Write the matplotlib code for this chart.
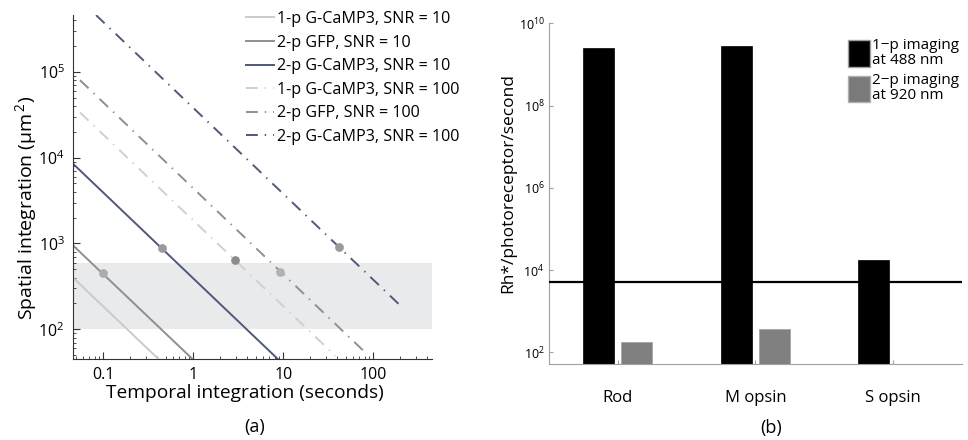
import numpy as np
import matplotlib
matplotlib.use("Agg")
import matplotlib.pyplot as plt
from matplotlib.ticker import FixedLocator, LogLocator, FuncFormatter, NullFormatter
from matplotlib.patches import Patch

plt.rcParams['font.family'] = ['Open Sans', 'DejaVu Sans']
plt.rcParams['mathtext.fontset'] = 'custom'
plt.rcParams['mathtext.rm'] = 'Open Sans'
plt.rcParams['mathtext.it'] = 'Open Sans:italic'
plt.rcParams['lines.scale_dashes'] = False

# ---- panel (a): spatial vs temporal integration ----
labels_a = ["1-p G-CaMP3, SNR = 10", "2-p GFP, SNR = 10", "2-p G-CaMP3, SNR = 10",
            "1-p G-CaMP3, SNR = 100", "2-p GFP, SNR = 100", "2-p G-CaMP3, SNR = 100"]
t_ends = [[0.046, 0.41], [0.046, 0.98], [0.046, 8.7],
          [0.055, 38], [0.055, 81], [0.083, 210]]
area_ends = [[400, 45], [950, 45], [8500, 45],
             [33600, 49], [80000, 54], [458000, 180]]
colors_a = ['#cacaca', '#8f8f8f', '#4f5978', '#d0d0d0', '#8f8f8f', '#4f5978']
dot_t = [0.1, 0.45, 2.9, 9.3, 42]
dot_area = [450, 880, 650, 470, 900]
dot_colors = ['#acacac', '#9a9a9a', '#8c8c8c', '#b2b2b2', '#999999']
band_low, band_high = 100, 600

# ---- panel (b): photoreceptor activation ----
cats = ["Rod", "M opsin", "S opsin"]
one_p = [2.45e9, 2.75e9, 1.75e4]
two_p = [182, 370, np.nan]
threshold = 5200

fig = plt.figure(figsize=(9.68, 4.4), dpi=100)

ax = fig.add_axes([0.0754, 0.184, 0.3709, 0.782])
ax.set_xscale('log')
ax.set_yscale('log')
ax.axhspan(band_low, band_high, color='#e9eaec', zorder=0, lw=0)
for i in range(6):
    if i < 3:
        ax.plot(t_ends[i], area_ends[i], color=colors_a[i], lw=1.4,
                label=labels_a[i], zorder=2)
    else:
        ax.plot(t_ends[i], area_ends[i], color=colors_a[i], lw=1.4,
                dashes=(8.5, 5, 1, 5), label=labels_a[i], zorder=2)
for t, a, c in zip(dot_t, dot_area, dot_colors):
    ax.plot(t, a, 'o', color=c, ms=6.3, mec='none', zorder=3)
ax.set_xlim(0.046, 450)
ax.set_ylim(45, 4.6e5)
for s in ['top', 'right']:
    ax.spines[s].set_visible(False)
ax.spines['left'].set_color('#333333')
ax.spines['bottom'].set_color('#333333')
ax.xaxis.set_major_locator(FixedLocator([0.1, 1, 10, 100]))
ax.xaxis.set_major_formatter(FuncFormatter(lambda v, p: '%g' % v))
ax.xaxis.set_minor_locator(LogLocator(base=10, subs=np.arange(2, 10)))
ax.xaxis.set_minor_formatter(NullFormatter())
ax.yaxis.set_major_locator(FixedLocator([1e2, 1e3, 1e4, 1e5]))
ax.yaxis.set_major_formatter(FuncFormatter(
    lambda v, p: r'$\mathregular{10^{%d}}$' % round(np.log10(v))))
ax.yaxis.set_minor_locator(LogLocator(base=10, subs=np.arange(2, 10)))
ax.yaxis.set_minor_formatter(NullFormatter())
ax.tick_params(which='both', direction='in', color='#333333', labelsize=11.5)
ax.tick_params(which='major', length=5, pad=6)
ax.tick_params(which='minor', length=2.5)
ax.set_xlabel('Temporal integration (seconds)', fontsize=13.8)
ax.set_ylabel(r'Spatial integration (μm$^{\,2}$)', fontsize=14)
ax.xaxis.set_label_coords(0.48, -0.072)
ax.yaxis.set_label_coords(-0.095, 0.44)
ax.legend(loc='upper left', bbox_to_anchor=(238 / 968, 1 - 3 / 440),
          bbox_transform=fig.transFigure, frameon=False, fontsize=11.6,
          handlelength=1.75, handletextpad=0.2, labelspacing=0.47, borderpad=0)

# panel b
bx = fig.add_axes([0.567, 0.1727, 0.4267, 0.7743])
xpos = np.arange(1, len(cats) + 1)
bx.set_yscale('log')
bx.bar(xpos - 0.14, one_p, width=0.225, bottom=1, color='black',
       edgecolor='black', lw=0.5, zorder=2)
bx.bar(xpos + 0.14, two_p, width=0.225, bottom=1, color='#808080',
       edgecolor='#a0a0a0', lw=0.5, zorder=2)
bx.axhline(threshold, color='black', lw=1.6, zorder=3)
bx.set_xlim(0.5, 3.5)
bx.set_ylim(52, 1e10)
for s in ['top', 'right']:
    bx.spines[s].set_visible(False)
bx.spines['left'].set_color('#a0a0a0')
bx.spines['bottom'].set_color('#a0a0a0')
bx.set_xticks(xpos)
bx.set_xticklabels(cats, fontsize=12)
bx.yaxis.set_major_locator(FixedLocator([1e2, 1e4, 1e6, 1e8, 1e10]))
bx.yaxis.set_major_formatter(FuncFormatter(
    lambda v, p: r'$\mathregular{10^{%d}}$' % round(np.log10(v))))
bx.yaxis.set_minor_locator(FixedLocator([]))
bx.tick_params(axis='y', direction='in', length=3, color='#a0a0a0',
               labelsize=9, pad=3)
bx.tick_params(axis='x', direction='in', length=3, color='#a0a0a0', pad=19)
bx.set_ylabel('Rh*/photoreceptor/second', fontsize=12.5)
bx.yaxis.set_label_coords(-0.08, 0.53)
handles_b = [Patch(facecolor='black', edgecolor='#a0a0a0'),
             Patch(facecolor='#7a7a7a', edgecolor='#b0b0b0')]
leg = bx.legend(handles_b, ['1\u2212p imaging\nat 488 nm', '2\u2212p imaging\nat 920 nm'],
                loc='upper left', bbox_to_anchor=(840 / 968, 1 - 30 / 440),
                bbox_transform=fig.transFigure, frameon=False, fontsize=11,
                handlelength=1.45, handleheight=2.3, handletextpad=0.15,
                labelspacing=0.3, borderpad=0)
for txt in leg.get_texts():
    txt.set_linespacing(1.05)

fig.text(255 / 968, 1 - 427 / 440, '(a)', ha='center', va='center', fontsize=13)
fig.text(771 / 968, 1 - 428 / 440, '(b)', ha='center', va='center', fontsize=13)

fig.savefig('out.png', dpi=100)
